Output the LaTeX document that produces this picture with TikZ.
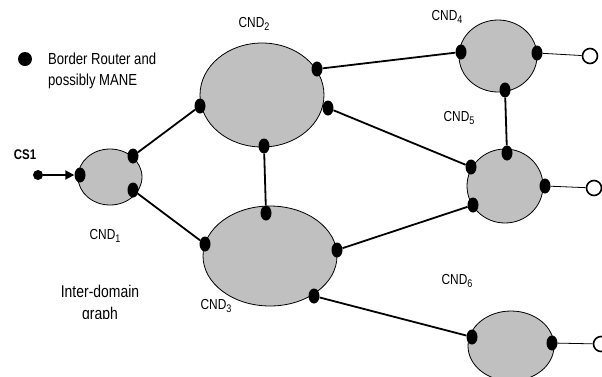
\documentclass[tikz,border=0pt]{standalone}
\usepackage{fontspec}
\usepackage{graphicx}
\setmainfont{Liberation Sans}
\usetikzlibrary{shapes.geometric,arrows.meta}
\definecolor{domaingray}{HTML}{C0C0C0}
% condensed text, as in a narrow sans face
\newcommand{\narrowtext}[1]{\scalebox{0.82}[1]{#1}}
% subscript index of a domain name
\newcommand{\ndsub}[1]{\raisebox{-0.35ex}{\fontsize{11}{11}\selectfont #1}}
\begin{document}
\begin{tikzpicture}[x=1pt,y=-1pt,
  cnd/.style={ellipse, draw, fill=domaingray, line width=0.8pt, inner sep=0pt},
  router/.style={ellipse, fill=black, minimum width=11pt, minimum height=15pt, inner sep=0pt},
  link/.style={line width=1.8pt},
  stub/.style={line width=0.8pt},
  port/.style={circle, draw, fill=white, line width=1.6pt, minimum size=15pt, inner sep=0pt},
  lbl/.style={font=\fontsize{14.5}{16}\selectfont, inner sep=0pt},
  note/.style={font=\fontsize{16}{20}\selectfont, inner sep=0pt}]
\useasboundingbox (0,0) rectangle (602,376);
\clip (0,0) rectangle (602,376);

% domains
\node[cnd, minimum width=64pt,  minimum height=56pt]  (d1) at (110,177) {};
\node[cnd, minimum width=124pt, minimum height=104pt] (d2) at (262,95)  {};
\node[cnd, minimum width=134pt, minimum height=100pt] (d3) at (270,256) {};
\node[cnd, minimum width=78pt,  minimum height=72pt]  (d4) at (498,56)  {};
\node[cnd, minimum width=76pt,  minimum height=74pt]  (d5) at (505,186) {};
\node[cnd, minimum width=86pt,  minimum height=70pt]  (d6) at (511,346) {};

% border routers
\node[router] (r1a) at (80,175)  {};
\node[router] (r1b) at (133,156) {};
\node[router] (r1c) at (133,190) {};
\node[router] (r2a) at (200,106) {};
\node[router] (r2b) at (264,146) {};
\node[router] (r2c) at (317,69)  {};
\node[router] (r2d) at (328,108) {};
\node[router] (r3a) at (266,213) {};
\node[router] (r3b) at (205,244) {};
\node[router] (r3c) at (337,250) {};
\node[router] (r3d) at (314,296) {};
\node[router] (r4a) at (461,52)  {};
\node[router] (r4b) at (537,53)  {};
\node[router] (r4c) at (505,90)  {};
\node[router] (r5a) at (507,153) {};
\node[router] (r5b) at (471,167) {};
\node[router] (r5c) at (545,186) {};
\node[router] (r5d) at (473,205) {};
\node[router] (r6a) at (472,337) {};
\node[router] (r6b) at (552,343) {};

% inter-domain links
\draw[link] (r1b) -- (r2a);
\draw[link] (r1c) -- (r3b);
\draw[link] (r2b) -- (r3a);
\draw[link] (r2c) -- (r4a);
\draw[link] (r2d) -- (r5b);
\draw[link] (r3c) -- (r5d);
\draw[link] (r3d) -- (r6a);
\draw[link] (r4c) -- (r5a);

% outgoing ports
\node[port] (p4) at (590,56)  {};
\node[port] (p5) at (594,188) {};
\node[port] (p6) at (601,344) {};
\draw[stub] (r4b) -- (p4);
\draw[stub] (r5c) -- (p5);
\draw[stub] (r6b) -- (p6);

% source CS1
\node[circle, fill=black, minimum size=10pt, inner sep=0pt] (src) at (38,175) {};
\draw[link, -{Triangle[length=9pt,width=9pt]}] (src) -- (r1a);
\node[lbl, font=\fontsize{14}{16}\selectfont\bfseries] (cs1) at (25,155) {\narrowtext{CS1}};

% legend
\node[circle, fill=black, minimum size=14pt, inner sep=0pt] (legdot) at (25,59) {};
\node[note, anchor=base west] (legtext1) at (48,64) {\narrowtext{Border Router and}};
\node[note, anchor=base west] (legtext2) at (48,85) {\narrowtext{possibly MANE}};

% domain names
\node[lbl] (n1) at (105,236) {\narrowtext{CND\ndsub{1}}};
\node[lbl] (n2) at (254,24)  {\narrowtext{CND\ndsub{2}}};
\node[lbl] (n3) at (216,306) {\narrowtext{CND\ndsub{3}}};
\node[lbl] (n4) at (447,17)  {\narrowtext{CND\ndsub{4}}};
\node[lbl] (n5) at (459,118) {\narrowtext{CND\ndsub{5}}};
\node[lbl] (n6) at (457,281) {\narrowtext{CND\ndsub{6}}};

% graph caption, cut off at the bottom of its text box
\begin{scope}
\clip (0,0) rectangle (602,318);
\node[note, font=\fontsize{17}{20}\selectfont, anchor=base] (cap1) at (100,297) {\narrowtext{Inter-domain}};
\node[note, font=\fontsize{17}{20}\selectfont, anchor=base] (cap2) at (100,319) {\narrowtext{graph}};
\end{scope}
\end{tikzpicture}
\end{document}
